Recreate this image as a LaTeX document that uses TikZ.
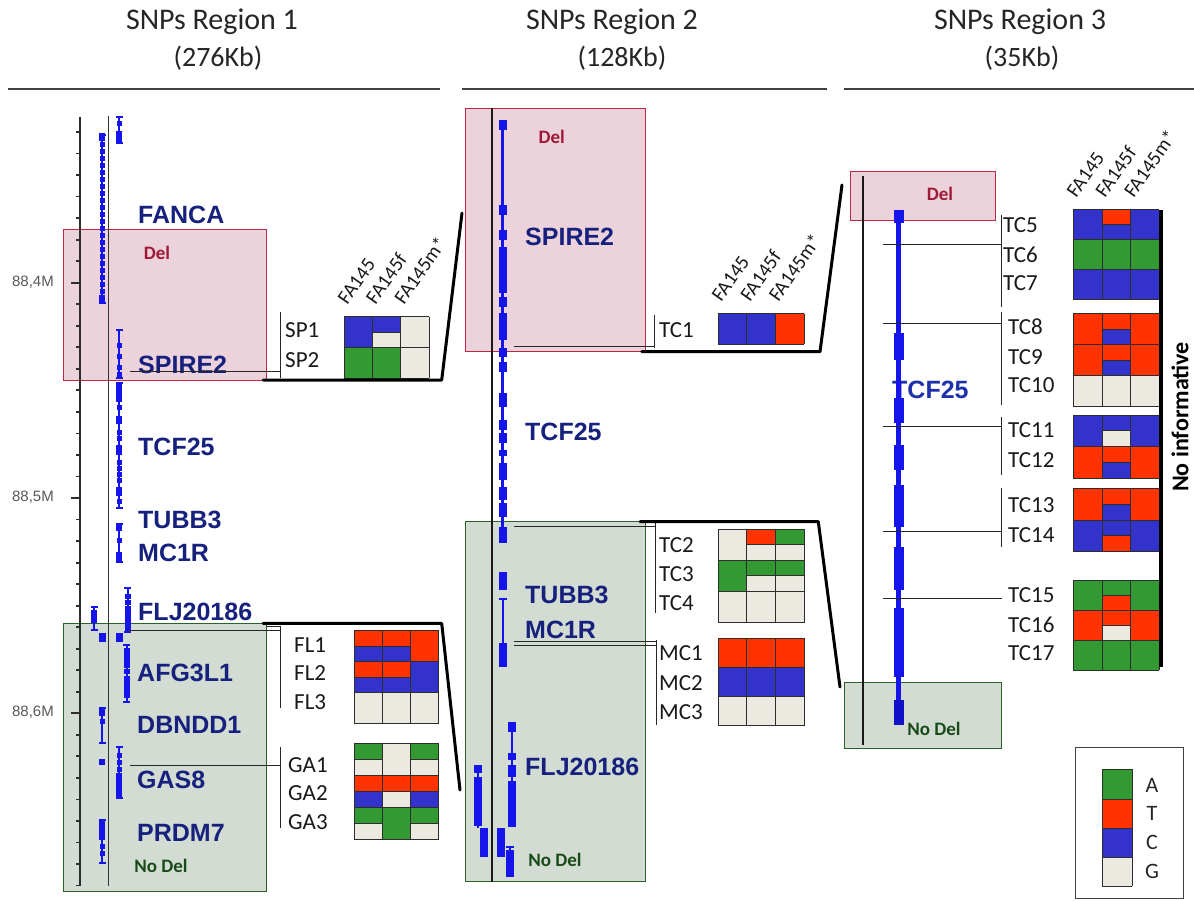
\documentclass[tikz,border=0pt]{standalone}
\usepackage{fontspec}
\setmainfont{Carlito}
\newfontfamily\arialf{Liberation Sans}
\definecolor{nA}{RGB}{51,153,51}
\definecolor{nT}{RGB}{255,51,0}
\definecolor{nC}{RGB}{51,51,204}
\definecolor{nG}{RGB}{236,234,224}
\definecolor{trk}{RGB}{20,20,235}
\definecolor{gname}{RGB}{22,32,125}
\definecolor{gnamethree}{RGB}{30,48,170}
\definecolor{delfill}{RGB}{236,210,218}
\definecolor{deldraw}{RGB}{190,40,70}
\definecolor{deltext}{RGB}{160,25,55}
\definecolor{ndfill}{RGB}{211,220,211}
\definecolor{nddraw}{RGB}{40,100,40}
\definecolor{ndtext}{RGB}{25,75,25}
\definecolor{gridl}{RGB}{45,45,45}
\definecolor{rulc}{RGB}{45,45,45}

\newcommand\ttrack[4]{%
  \draw[trk, line width=1.8pt] (#1,#2) -- (#1,#3);
  \draw[trk, line width=1.6pt] ({#1-3.5},#2) -- ({#1+3.5},#2) ({#1-3.5},#3) -- ({#1+3.5},#3);
  \foreach \yy in {#4} {\fill[trk] ({#1-2.8},{\yy-2.5}) rectangle ({#1+2.8},{\yy+2.5});}
}
\newcommand\tblk[4]{\fill[trk] ({#1-#4},#2) rectangle ({#1+#4},#3);}
% x0, y0, cell width, row height, number of rows, rows
\newcommand\snpgrid[6]{%
  \foreach \rr [count=\gi from 0] in {#6} {
    \foreach \ta/\tb [count=\gj from 0] in \rr {
      \fill[n\ta] ({#1+\gj*#3},{#2+\gi*#4}) rectangle ++(#3,{#4/2});
      \fill[n\tb] ({#1+\gj*#3},{#2+\gi*#4+#4/2}) rectangle ++(#3,{#4/2});
      \ifx\ta\tb\else \draw[gl] ({#1+\gj*#3},{#2+\gi*#4+#4/2}) -- ++(#3,0);\fi
    }
  }
  \foreach \gi in {0,...,#5} {\draw[gl] (#1,{#2+\gi*#4}) -- ++({3*#3},0);}
  \foreach \gj in {0,...,3} {\draw[gl] ({#1+\gj*#3},#2) -- ++(0,{#5*#4});}
}
\newcommand\hdrs[3]{% x0, y0, cw
  \foreach \nm [count=\gj from 0] in {FA145,FA145f,FA145m*}
    {\node[hdr] at ({#1+\gj*#3+3},{#2-11}) {\nm};}
}

\begin{document}
\begin{tikzpicture}[x=1pt,y=-1pt,
  title/.style={font=\fontsize{30}{32}\selectfont, text=black!85, inner sep=0},
  sub/.style={font=\fontsize{28}{30}\selectfont, text=black!85, inner sep=0},
  gene/.style={font=\arialf\bfseries\fontsize{25}{25}\selectfont, text=gname, anchor=west, inner sep=0},
  snp/.style={font=\fontsize{23}{23}\selectfont, text=black!90, anchor=west, inner sep=0},
  hdr/.style={font=\fontsize{20}{20}\selectfont, text=black!90, rotate=55, anchor=base west, inner sep=0},
  deltxt/.style={font=\bfseries\fontsize{19}{19}\selectfont, text=deltext, inner sep=0},
  nodeltxt/.style={font=\bfseries\fontsize{19}{19}\selectfont, text=ndtext, inner sep=0},
  delbox/.style={fill=delfill, draw=deldraw, line width=1pt},
  ndbox/.style={fill=ndfill, draw=nddraw, line width=1pt},
  zl/.style={line width=3pt, line join=round, line cap=round, draw=black},
  conn/.style={line width=1pt, draw=black!85},
  gl/.style={line width=1pt, draw=gridl},
  rlab/.style={font=\arialf\fontsize{15}{15}\selectfont, text=black!65, anchor=east, inner sep=0},
  leg/.style={font=\fontsize{22}{22}\selectfont, text=black!85, inner sep=0}
]
\useasboundingbox[fill=white] (0,0) rectangle (1194,901);

% ---------- titles ----------
\node[title] (t1) at (212,22) {SNPs Region 1};
\node[sub] (s1) at (218,58) {(276Kb)};
\node[title] (t2) at (612,22) {SNPs Region 2};
\node[sub] (s2) at (622,58) {(128Kb)};
\node[title] (t3) at (1020,22) {SNPs Region 3};
\node[sub] (s3) at (1022,58) {(35Kb)};
\draw[line width=1.5pt, black!75] (8,89) -- (440,89);
\draw[line width=1.5pt, black!75] (462,89) -- (827,89);
\draw[line width=1.5pt, black!75] (844,89) -- (1194,89);

% ---------- boxes ----------
\draw[delbox] (63.3,229.3) rectangle (266.7,380);
\draw[ndbox] (63.3,623.3) rectangle (266.7,891.7);
\draw[delbox] (465,108.3) rectangle (645.7,351.7);
\draw[ndbox] (465,521.7) rectangle (645.7,881.7);
\draw[delbox] (850,171.7) rectangle (995.7,220.7);
\draw[ndbox] (844.3,682.7) rectangle (1001,748.3);
\node[deltxt] (d1) at (157,253) {Del};
\node[nodeltxt] (n1) at (161,866) {No Del};
\node[deltxt] (d2) at (551.7,137.3) {Del};
\node[nodeltxt] (n2) at (555,860) {No Del};
\node[deltxt] (d3) at (940,194) {Del};
\node[nodeltxt] (n3) at (934,729) {No Del};

% ---------- region 1 ruler ----------
\draw[line width=2pt, rulc] (80,117) -- (80,886);
\foreach \i in {0,...,35} {\draw[line width=1.8pt, rulc] (76,{132+\i*21.53}) -- (80,{132+\i*21.53});}
\foreach \i in {7,17,27} {\draw[line width=1.8pt, rulc] (71,{132+\i*21.53}) -- (80,{132+\i*21.53});}
\node[rlab] (m4) at (54,282.7) {88,4M};
\node[rlab] (m5) at (54,497.4) {88,5M};
\node[rlab] (m6) at (54,712.7) {88,6M};
\draw[line width=1.5pt, black!80] (108.3,116) -- (108.3,886);

% ---------- region 1 gene labels ----------
\node[gene] (g1a) at (138,215) {FANCA};
\node[gene] (g1b) at (138,365) {SPIRE2};
\node[gene] (g1c) at (138,446.7) {TCF25};
\node[gene] (g1d) at (138,520) {TUBB3};
\node[gene] (g1e) at (138,553) {MC1R};
\node[gene] (g1f) at (138,612) {FLJ20186};
\node[gene] (g1g) at (137,673) {AFG3L1};
\node[gene] (g1h) at (137,725) {DBNDD1};
\node[gene] (g1i) at (137,780) {GAS8};
\node[gene] (g1j) at (137,833) {PRDM7};

% ---------- region 1 tracks ----------
\ttrack{119.3}{117}{143}{124}
\tblk{119.3}{131}{143}{3}
\ttrack{102.3}{135}{303}{138,145,...,299}
\tblk{102.3}{133}{141}{3}
\tblk{102.3}{295}{304}{3}
\ttrack{119.3}{330}{378}{345,356,367,374}
\ttrack{119.3}{383}{508}{407,432,438,462,468,474,480,501}
\tblk{119.3}{383}{402}{3}
\tblk{119.3}{416}{424}{3}
\tblk{119.3}{445}{455}{3}
\tblk{119.3}{487}{496}{3}
\ttrack{119.3}{524}{562}{540}
\tblk{119.3}{523}{531}{3}
\tblk{119.3}{552}{563}{3}
\ttrack{127.7}{588}{632}{596,602}
\tblk{127.7}{606}{632}{2.8}
\ttrack{94.3}{607}{630}{618}
\tblk{94.3}{610}{623}{3}
\tblk{102.3}{633}{642}{3.5}
\tblk{119.3}{633}{642}{3.5}
\ttrack{126.7}{645}{702}{650,657,664,671,678,685,692}
\tblk{126.7}{648}{668}{3}
\tblk{126.7}{676}{698}{3}
\ttrack{102.3}{708}{743}{721}
\tblk{102.3}{708}{716}{3}
\tblk{102.3}{759}{765}{3}
\ttrack{119.3}{747}{798}{755,762,769}
\tblk{119.3}{773}{798}{3}
\ttrack{102.3}{820}{863}{846,853}
\tblk{102.3}{820}{840}{3}

% ---------- region 1 SNPs ----------
\coordinate (c1a) at (130,371);
\coordinate (b1a) at (280,371);
\draw[conn] (c1a) -- (b1a);
\draw[conn] (280,312) -- (280,378);
\coordinate (c1b) at (128,630);
\coordinate (b1b) at (280,630);
\draw[conn] (c1b) -- (b1b);
\draw[conn] (266,626) -- (280,626);
\draw[conn] (280,626) -- (280,708);
\coordinate (c1c) at (130,765.7);
\coordinate (b1c) at (280.7,765.7);
\draw[conn] (c1c) -- (b1c);
\draw[conn] (280.7,747) -- (280.7,828);
\node[snp] (sp1) at (285,330) {SP1};
\node[snp] (sp2) at (285,360) {SP2};
\node[snp] (fl1) at (294,645) {FL1};
\node[snp] (fl2) at (294,673.3) {FL2};
\node[snp] (fl3) at (294,701.7) {FL3};
\node[snp] (ga1) at (288,765) {GA1};
\node[snp] (ga2) at (288,793.3) {GA2};
\node[snp] (ga3) at (288,821.7) {GA3};
\snpgrid{344.3}{316.7}{28.3}{30.8}{2}{{C/C,C/G,G/G},{A/A,A/A,G/G}}
\hdrs{344.3}{316.7}{28.3}
\snpgrid{354}{630.7}{28.3}{31}{3}{{T/C,T/C,T/T},{T/C,T/C,C/C},{G/G,G/G,G/G}}
\snpgrid{354}{743.3}{28.3}{32.2}{3}{{A/G,G/G,A/G},{T/C,T/G,T/C},{A/G,A/A,A/G}}

% ---------- region 2 ----------
\draw[line width=2pt, black!90] (491.7,108.3) -- (491.7,881.7);
\node[gene] (g2a) at (525,236.7) {SPIRE2};
\node[gene] (g2b) at (525,431.7) {TCF25};
\node[gene] (g2c) at (525,595) {TUBB3};
\node[gene] (g2d) at (525,630) {MC1R};
\node[gene] (g2e) at (525,766.7) {FLJ20186};
\draw[trk, line width=3pt] (502.7,120) -- (502.7,543);
\foreach \ya/\yb in {120/130,205/215,230/240,247/267,267/293,297/307,313/340,348/357,362/372,393/407,420/430,433/443,450/456,463/480,487/500,503/517,527/543}
  {\tblk{502.7}{\ya}{\yb}{3.8}}
\tblk{502.7}{571.7}{590}{3.8}
\draw[trk, line width=2pt] (502.7,598) -- (502.7,667);
\draw[trk, line width=2pt] (498.7,599) -- (506.7,599);
\tblk{502.7}{643}{667}{3.8}
\draw[trk, line width=2.4pt] (511.7,722) -- (511.7,827);
\foreach \ya/\yb in {722/732,753/760,765/777,781/827} {\tblk{511.7}{\ya}{\yb}{4}}
\draw[trk, line width=2.4pt] (477.7,765) -- (477.7,828);
\foreach \ya/\yb in {765/773,777/826} {\tblk{477.7}{\ya}{\yb}{3.8}}
\tblk{484.3}{828}{857}{4}
\tblk{501}{828}{857}{4}
\draw[trk, line width=2.4pt] (510,846) -- (510,877);
\tblk{510}{850}{877}{3.8}
\draw[trk, line width=2pt] (506,847) -- (514,847);

\coordinate (c2a) at (514,346.7);
\coordinate (b2a) at (654.3,346.7);
\draw[conn] (c2a) -- (b2a);
\draw[conn] (654.3,315) -- (654.3,348);
\coordinate (c2b) at (514,526.7);
\coordinate (b2b) at (655,526.7);
\draw[conn] (c2b) -- (b2b);
\draw[conn] (655,523) -- (655,613);
\coordinate (c2c) at (514,641.7);
\coordinate (b2c) at (656,641.7);
\draw[conn] (c2c) -- (b2c);
\draw[conn] (514,645) -- (656,645);
\draw[conn] (656,640) -- (656,725);
\node[snp] (tc1) at (659,330) {TC1};
\node[snp] (tc2) at (659,545) {TC2};
\node[snp] (tc3) at (659,574) {TC3};
\node[snp] (tc4) at (659,602.7) {TC4};
\node[snp] (mc1) at (659,653.3) {MC1};
\node[snp] (mc2) at (659,683.3) {MC2};
\node[snp] (mc3) at (659,711.7) {MC3};
\snpgrid{718.3}{314}{28.6}{30.3}{1}{{C/C,C/C,T/T}}
\hdrs{718.3}{314}{28.6}
\snpgrid{718.3}{529.3}{28.6}{31.1}{3}{{G/G,T/G,A/G},{A/A,A/G,A/G},{G/G,G/G,G/G}}
\snpgrid{718.3}{638.3}{28.6}{29.2}{3}{{T/T,T/T,T/T},{C/C,C/C,C/C},{G/G,G/G,G/G}}

% ---------- zoom lines ----------
\draw[zl] (263,380) -- (441.7,380) -- (462,213);
\draw[zl] (263,623.3) -- (441.7,623.3) -- (460,790);
\draw[zl] (641.7,351.7) -- (820,351.7) -- (842,185);
\draw[zl] (640,521.7) -- (818.3,521.7) -- (840,687);

% ---------- region 3 ----------
\draw[line width=1.8pt, black!90] (863.3,176) -- (863.3,745);
\node[gene, text=gnamethree] (g3a) at (892,390) {TCF25};
\draw[trk, line width=4.5pt] (898.7,210) -- (898.7,725);
\foreach \ya/\yb in {210/223,333/360,398/423,445/470,485/527,547/590,608/677} {\tblk{898.7}{\ya}{\yb}{4.8}}
\fill[trk!85!black] (893.7,700) rectangle (903.7,725);
\foreach \yy in {244.3,323.3,426.7,531.7,598.3} {\draw[conn] (883.3,\yy) -- (1001.7,\yy);}
\draw[conn] (1001,215) -- (1001,306.7);
\draw[conn] (1001,311.7) -- (1001,405);
\draw[conn] (1001,416.7) -- (1001,475);
\draw[conn] (1001,488.3) -- (1001,546.7);
\node[snp] (tc5) at (1003,225) {TC5};
\node[snp] (tc6) at (1003,255) {TC6};
\node[snp] (tc7) at (1003,283.3) {TC7};
\node[snp] (tc8) at (1008,326.7) {TC8};
\node[snp] (tc9) at (1008,356.7) {TC9};
\node[snp] (tc10) at (1008,385) {TC10};
\node[snp] (tc11) at (1008,430) {TC11};
\node[snp] (tc12) at (1008,460) {TC12};
\node[snp] (tc13) at (1008,505) {TC13};
\node[snp] (tc14) at (1008,535) {TC14};
\node[snp] (tc15) at (1008,595) {TC15};
\node[snp] (tc16) at (1008,625) {TC16};
\node[snp] (tc17) at (1008,652.7) {TC17};
\snpgrid{1073.3}{210}{28.7}{30}{3}{{C/C,T/C,C/C},{A/A,A/A,A/A},{C/C,C/C,C/C}}
\hdrs{1073.3}{210}{28.7}
\snpgrid{1073.3}{314}{28.7}{30.9}{3}{{T/T,T/C,T/T},{T/T,T/C,T/T},{G/G,G/G,G/G}}
\snpgrid{1073.3}{415}{28.7}{31.7}{2}{{C/C,C/G,C/C},{T/T,T/C,T/T}}
\snpgrid{1073.3}{488.3}{28.7}{31.7}{2}{{T/T,T/C,T/T},{C/C,C/T,C/C}}
\snpgrid{1073.3}{580}{28.7}{30}{3}{{A/A,A/T,A/A},{T/T,T/G,T/T},{A/A,A/A,A/A}}
\draw[line width=4pt] (1161,210) -- (1161,667);
\node[rotate=90, font=\bfseries\fontsize{24}{24}\selectfont, inner sep=0] (noinf) at (1180,417) {No informative};

% ---------- legend ----------
\draw[line width=1pt, black!75] (1075,747) rectangle (1183,898);
\fill[nA] (1102.3,769) rectangle (1132.3,799.3);
\fill[nT] (1102.3,799.3) rectangle (1132.3,828.3);
\fill[nC] (1102.3,828.3) rectangle (1132.3,857.3);
\fill[nG] (1102.3,857.3) rectangle (1132.3,886);
\foreach \yy in {769,799.3,828.3,857.3,886} {\draw[gl] (1102.3,\yy) -- (1132.3,\yy);}
\draw[gl] (1102.3,769) -- (1102.3,886);
\draw[gl] (1132.3,769) -- (1132.3,886);
\node[leg] (la) at (1152,785) {A};
\node[leg] (lt) at (1152,813.3) {T};
\node[leg] (lc) at (1152,842) {C};
\node[leg] (lg) at (1152,871.7) {G};
\end{tikzpicture}
\end{document}
